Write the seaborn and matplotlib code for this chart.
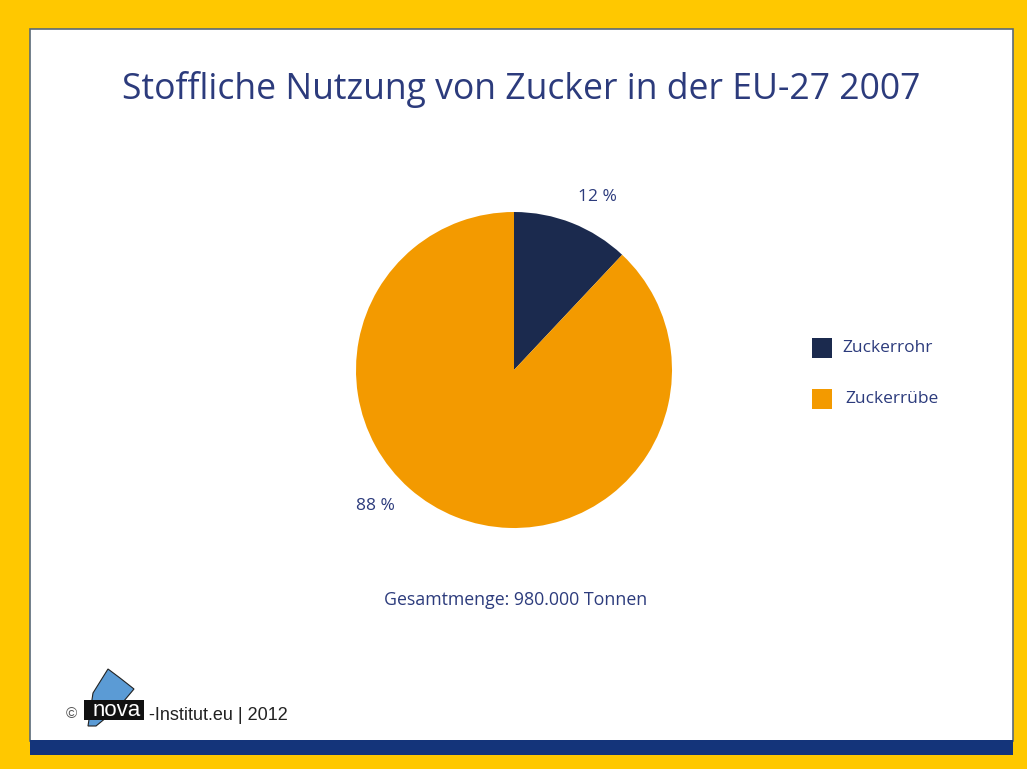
import matplotlib
matplotlib.use("Agg")
import matplotlib.pyplot as plt
import matplotlib.patches as mpatches
import seaborn as sns

# Data
categories = ["Zuckerrohr", "Zuckerrübe"]
shares = [12, 88]
share_labels = ["12 %", "88 %"]
title = "Stoffliche Nutzung von Zucker in der EU-27 2007"
total_note = "Gesamtmenge: 980.000 Tonnen"
footer = "-Institut.eu | 2012"

sns.set_theme(style="white")
plt.rcParams['font.family'] = ['Open Sans', 'DejaVu Sans']

W, H = 1027, 769
fig = plt.figure(figsize=(W / 100, H / 100), dpi=100)
fig.patch.set_facecolor("#FFC800")

def fx(px):
    return px / W

def fy(py):
    return 1 - py / H

# white panel
fig.patches.append(mpatches.Rectangle((fx(30), fy(741)), fx(983), 712 / H,
                                      transform=fig.transFigure, facecolor="white",
                                      edgecolor="#5a6a78", linewidth=1.2, zorder=-2))
# blue bar at bottom
fig.patches.append(mpatches.Rectangle((fx(30), fy(755)), fx(983), 15 / H,
                                      transform=fig.transFigure, facecolor="#14347A",
                                      edgecolor="none", zorder=-1))

text_col = "#2C3B7C"
fig.text(fx(521), fy(90), title, ha="center", va="center", fontsize=25.6, color=text_col)

colors = sns.color_palette(["#1B2A4E", "#F39A00"])
ax = fig.add_axes([fx(356), fy(528), fx(316), 316 / H])
ax.set_zorder(5)
ax.pie(shares, colors=colors, startangle=90, counterclock=False, radius=1,
       wedgeprops=dict(edgecolor="none", linewidth=0))
ax.set_xlim(-1, 1)
ax.set_ylim(-1, 1)
ax.set_aspect("equal")
ax.axis("off")

label_pos = [(597, 197), (375, 506)]
for lab, (px, py) in zip(share_labels, label_pos):
    fig.text(fx(px), fy(py), lab, ha="center", va="center", fontsize=12.5, color=text_col)

# legend
leg_y = [348, 399]
leg_tx = [842, 845]
for cat, col, py, tx in zip(categories, colors, leg_y, leg_tx):
    fig.patches.append(mpatches.Rectangle((fx(812), fy(py + 10)), fx(20), 20 / H,
                                          transform=fig.transFigure, facecolor=col,
                                          edgecolor="none"))
    fig.text(fx(tx), fy(py), cat, ha="left", va="center", fontsize=12.5, color=text_col)

fig.text(fx(516), fy(600), total_note, ha="center", va="center", fontsize=12.8, color=text_col)

# footer logo
foot_font = ["Liberation Sans", "DejaVu Sans"]
fig.text(fx(66), fy(714), "©", ha="left", va="center", fontsize=11, color="#555555",
         family=foot_font)
fig.patches.append(mpatches.Polygon([(fx(88), fy(726)), (fx(93), fy(693)), (fx(108), fy(669)),
                                     (fx(120), fy(678)), (fx(134), fy(689)), (fx(118), fy(708)),
                                     (fx(96), fy(726))],
                                    closed=True, transform=fig.transFigure,
                                    facecolor="#5B9BD5", edgecolor="#222222", linewidth=0.8, zorder=2))
fig.patches.append(mpatches.Rectangle((fx(84), fy(720)), fx(60), 20 / H,
                                      transform=fig.transFigure, facecolor="#111111",
                                      edgecolor="none", zorder=3))
fig.text(fx(117), fy(711), "nova", ha="center", va="center", fontsize=16, color="white",
         family=foot_font, zorder=4)
fig.text(fx(149), fy(715), footer, ha="left", va="center", fontsize=13, color="#222222",
         family=foot_font)

fig.savefig("out.png", dpi=100, facecolor=fig.get_facecolor())
